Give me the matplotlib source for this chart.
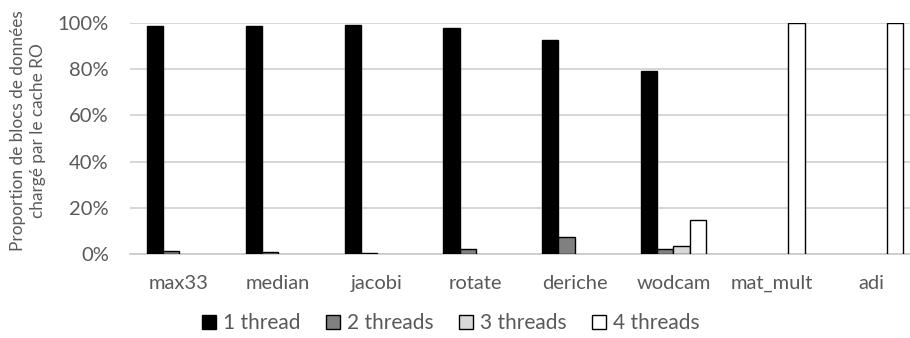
import matplotlib
matplotlib.use("Agg")
import matplotlib.pyplot as plt
import numpy as np
from matplotlib.ticker import PercentFormatter

categories = ["max33", "median", "jacobi", "rotate", "deriche", "wodcam", "mat_mult", "adi"]
series_names = ["1 thread", "2 threads", "3 threads", "4 threads"]
one_thread = [98.7, 98.7, 99.1, 98.0, 92.6, 79.4, 0, 0]
two_threads = [1.1, 1.0, 0.6, 2.2, 7.2, 2.0, 0, 0]
three_threads = [0, 0, 0, 0, 0, 3.3, 0, 0]
four_threads = [0, 0, 0, 0, 0, 14.8, 100, 100]
colors = ["#000000", "#808080", "#D9D9D9", "#FFFFFF"]

text_color = "#595959"
plt.rcParams["font.family"] = ["Lato", "DejaVu Sans"]

fig = plt.figure(figsize=(9.1, 3.38), dpi=100)
W, H = 910, 338
left, right = 129.6, 920.6
top, bottom = 23, 254
ax = fig.add_axes([left / W, (H - bottom) / H, (right - left) / W, (bottom - top) / H])

x = np.arange(len(categories))
w = 0.163
all_series = [one_thread, two_threads, three_threads, four_threads]
for i, (vals, name, c) in enumerate(zip(all_series, series_names, colors)):
    # zero values are not drawn at all in the original
    lws = [1.0 if v > 0 else 0 for v in vals]
    ax.bar(x + (i - 1.5) * w, vals, width=w, color=c, edgecolor="black",
           linewidth=lws, label=name, zorder=3)

ax.set_xlim(-0.5, len(categories) - 0.5)
ax.set_ylim(0, 100)
ax.set_yticks(np.arange(0, 101, 20))
ax.yaxis.set_major_formatter(PercentFormatter(decimals=0))
ax.set_xticks(x)
ax.set_xticklabels(categories)
ax.grid(axis="y", color="#D0D0D0", linewidth=1.2, zorder=0)
for s in ["top", "right", "left"]:
    ax.spines[s].set_visible(False)
ax.spines["bottom"].set_color("#C8C8C8")
ax.spines["bottom"].set_linewidth(1.2)
ax.tick_params(axis="y", length=0, pad=15, colors=text_color, labelsize=14.5)
ax.tick_params(axis="x", length=0, pad=15, colors=text_color, labelsize=14.5)

fig.text(28 / W, 1 - 131 / H, "Proportion de blocs de données\nchargé par le cache RO",
         rotation=90, ha="center", va="center", color=text_color, fontsize=12.4,
         linespacing=1.3)

leg = fig.legend(loc="center", bbox_to_anchor=(451 / W, 1 - 323 / H), ncol=4,
                 frameon=False, handlelength=0.68, handleheight=0.68,
                 handletextpad=0.35, columnspacing=1.2, fontsize=15)
for h in leg.legend_handles:
    h.set_linewidth(1.0)
for t in leg.get_texts():
    t.set_color(text_color)

fig.savefig("out.png", dpi=100)
